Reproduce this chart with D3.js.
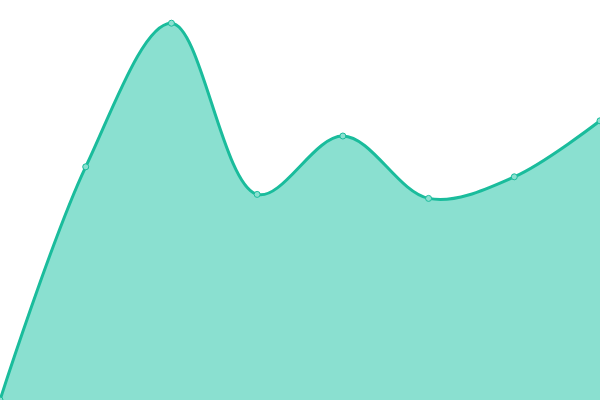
<!DOCTYPE html>
<html>
<head>
<meta charset="utf-8">
<script src="https://cdn.jsdelivr.net/npm/d3@7"></script>
<style>
  html, body { margin: 0; padding: 0; background: #fff; }
  svg { display: block; }
</style>
</head>
<body>
<div id="chart"></div>
<script>
// categories (x) and the one series
const categories = ["1", "2", "3", "4", "5", "6", "7", "8"];
const values = [0, 58.3, 94.2, 51.4, 66, 50.4, 55.8, 69.8];

const width = 600, height = 400;

const x = d3.scalePoint().domain(categories).range([0, width]);
const y = d3.scaleLinear().domain([0, 100]).range([height, 0]);

const data = categories.map((c, i) => ({ c, v: values[i] }));

const svg = d3.select("#chart")
  .append("svg")
  .attr("width", width)
  .attr("height", height);

const curve = d3.curveCatmullRom;

const area = d3.area()
  .x(d => x(d.c))
  .y0(height)
  .y1(d => y(d.v))
  .curve(curve);

const line = d3.line()
  .x(d => x(d.c))
  .y(d => y(d.v))
  .curve(curve);

svg.append("path")
  .datum(data)
  .attr("fill", "#8ae0d0")
  .attr("d", area);

svg.append("path")
  .datum(data)
  .attr("fill", "none")
  .attr("stroke", "#1abc9c")
  .attr("stroke-width", 3)
  .attr("d", line);

svg.selectAll("circle")
  .data(data)
  .join("circle")
  .attr("cx", d => x(d.c))
  .attr("cy", d => y(d.v))
  .attr("r", 3)
  .attr("fill", "#8ae0d0")
  .attr("stroke", "#1abc9c")
  .attr("stroke-width", 1);
</script>
</body>
</html>
